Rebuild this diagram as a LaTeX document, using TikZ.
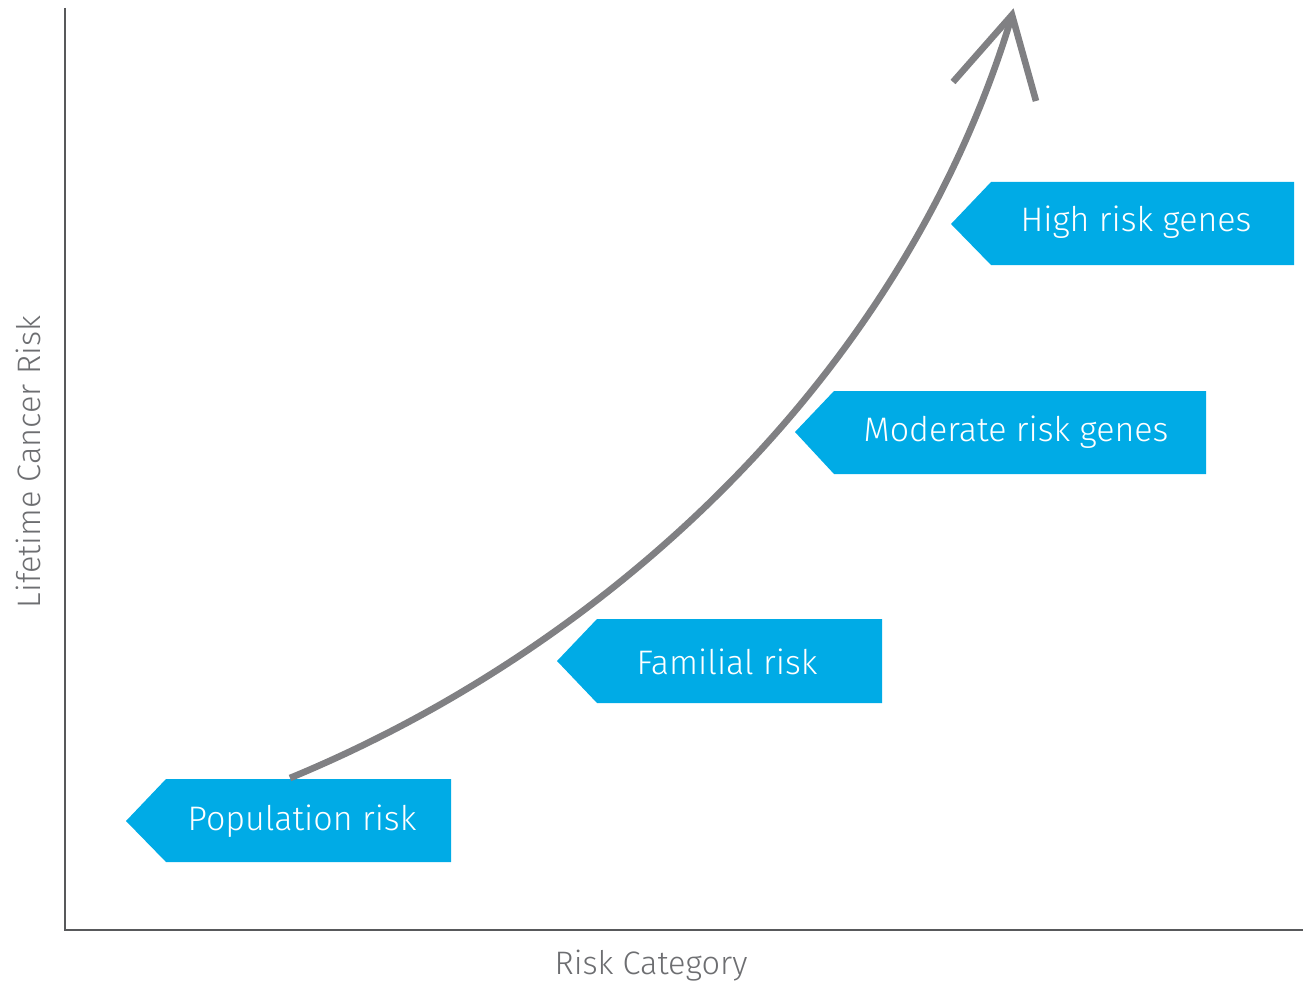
\documentclass[tikz,border=0pt]{standalone}
\usepackage{fontspec}
\setmainfont{Fira Sans Light}
\definecolor{tagblue}{HTML}{00ABE6}
\definecolor{curvegray}{HTML}{808083}
\definecolor{axisgray}{HTML}{58595B}
\definecolor{textgray}{HTML}{6D6E71}
\begin{document}
\begin{tikzpicture}[x=1pt,y=-1pt,
  tag/.style={fill=tagblue,draw=none},
  tagtext/.style={text=white,font=\fontsize{34}{37}\selectfont,anchor=center,inner sep=0pt},
  axislabel/.style={text=textgray,font=\fontsize{32.5}{36}\selectfont,inner sep=0pt},
  axisline/.style={draw=axisgray,line width=2.8pt},
  riskcurve/.style={draw=curvegray,line width=6.6pt}]
\useasboundingbox (0,0) rectangle (1303,987);
% axes
\coordinate (ytop) at (65,8);
\coordinate (origin) at (65,930);
\coordinate (xend) at (1303,930);
\draw[axisline] (ytop) -- (origin) -- (xend);
\node[axislabel] (xlab) at (651,966) {Risk Category};
\node[axislabel,rotate=90] (ylab) at (28,462) {Lifetime Cancer Risk};
% tags
\fill[tag] (126,821) -- (166,779) -- (451,779) -- (451,862) -- (166,862) -- cycle;
\node[tagtext] (pop) at (302,821) {Population risk};
\fill[tag] (557,661) -- (597,619) -- (882,619) -- (882,703) -- (597,703) -- cycle;
\node[tagtext] (fam) at (727,662) {Familial risk};
\fill[tag] (795,432) -- (834,391) -- (1206,391) -- (1206,474) -- (834,474) -- cycle;
\node[tagtext] (mod) at (1016,432) {Moderate risk genes};
\fill[tag] (951,224) -- (991,182) -- (1294,182) -- (1294,265) -- (991,265) -- cycle;
\node[tagtext] (high) at (1136,222) {High risk genes};
% curve
\coordinate (cstart) at (290,778);
\coordinate (cend) at (1010,22);
\coordinate (headl) at (953,82);
\coordinate (tip) at (1012,15);
\coordinate (headr) at (1036,101);
\draw[riskcurve] (cstart) .. controls (605,648) and (900,380) .. (cend);
\draw[riskcurve,line join=miter] (headl) -- (tip) -- (headr);
\end{tikzpicture}
\end{document}
